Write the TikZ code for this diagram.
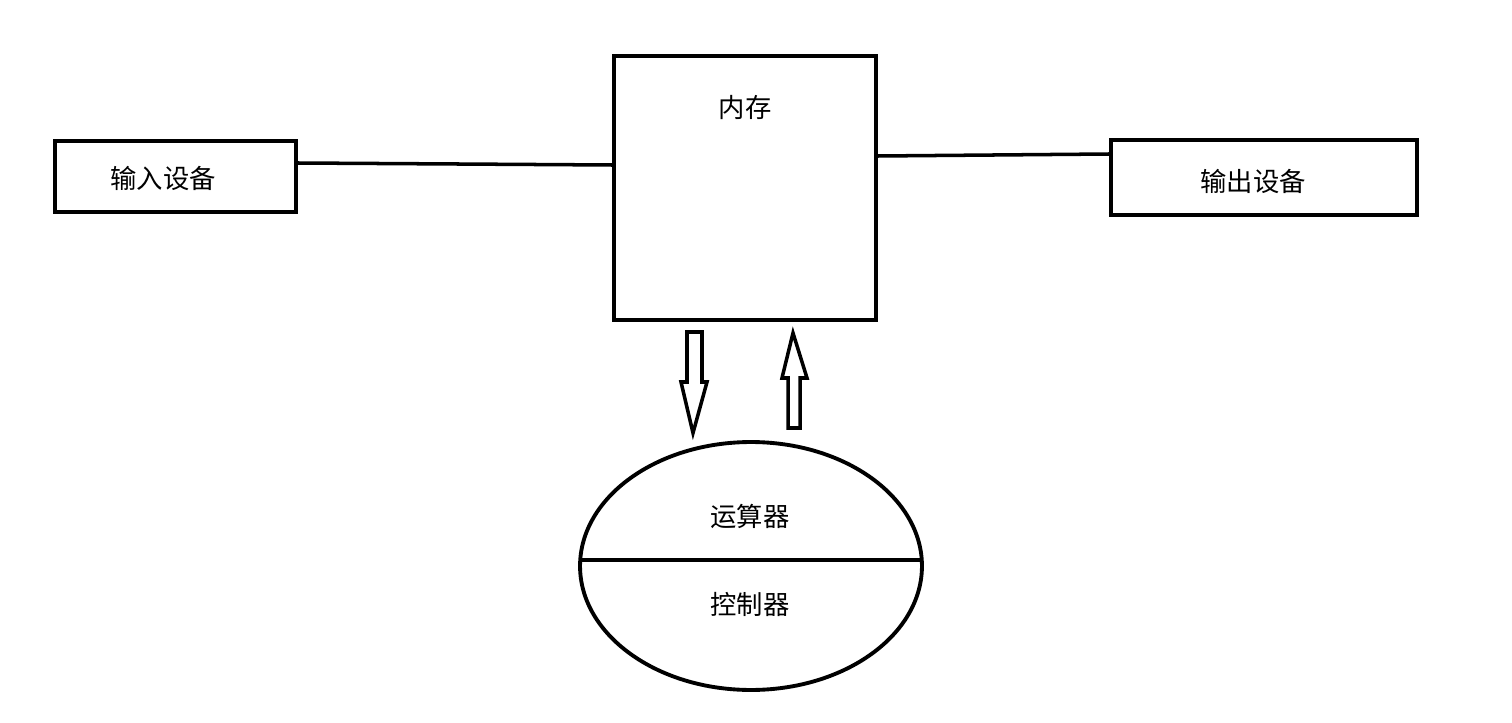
\documentclass[tikz,border=0pt]{standalone}
\usepackage{fontspec}
\newfontfamily\cjk{Noto Sans CJK SC}
\usetikzlibrary{shapes.geometric}
\begin{document}
\begin{tikzpicture}[x=0.02cm,y=-0.02cm,
  box/.style={draw=black,line width=2.2pt,rectangle,inner sep=0pt},
  lbl/.style={font=\cjk\fontsize{15}{18}\selectfont,inner sep=0pt},
  conn/.style={draw=black,line width=2pt},
  hollow/.style={draw=black,line width=2pt,line join=miter,fill=white}]
\fill[white] (0,0) rectangle (1512,723);
\useasboundingbox (0,0) rectangle (1512,723);
% boxes
\node[box,minimum width=4.82cm,minimum height=1.42cm] (in) at (175.5,176.5) {};
\node[lbl] (inT) at (163,178) {输入设备};
\node[box,minimum width=5.24cm,minimum height=5.28cm] (mem) at (745,188) {};
\node[lbl] (memT) at (745,108) {内存};
\node[box,minimum width=6.12cm,minimum height=1.5cm] (out) at (1264,177.5) {};
\node[lbl] (outT) at (1253,181) {输出设备};
% connectors
\draw[conn] (in.east |- 0,163) -- (458,164) -- (mem.west |- 0,165);
\draw[conn] (mem.east |- 0,156) -- (out.west |- 0,154);
% hollow arrows
\draw[hollow] (687,332) -- (702,332) -- (702,382) -- (707,382) -- (693,433) -- (681,382) -- (687,382) -- cycle;
\draw[hollow] (788,428) -- (800,428) -- (800,378) -- (807,378) -- (793,333) -- (782,378) -- (788,378) -- cycle;
% ellipse
\node[ellipse,draw=black,line width=2.2pt,minimum width=6.84cm,minimum height=4.96cm,inner sep=0pt] (cpu) at (751,566) {};
\draw[line width=2.4pt] (580,560) -- (922,560);
\node[lbl] (aluT) at (750,516) {运算器};
\node[lbl] (cuT) at (750,604) {控制器};
\end{tikzpicture}
\end{document}
